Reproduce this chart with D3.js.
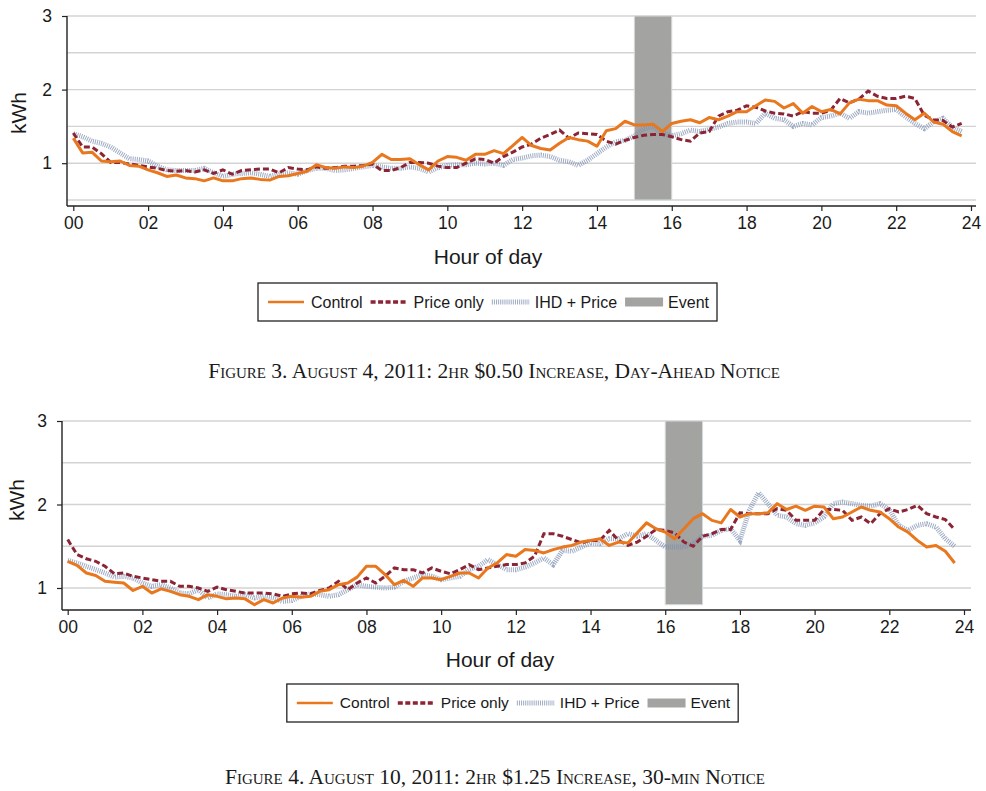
<!DOCTYPE html>
<html>
<head>
<meta charset="utf-8">
<script src="https://cdnjs.cloudflare.com/ajax/libs/d3/7.8.5/d3.min.js"></script>
<style>
  body { margin: 0; background: #fff; }
  text { font-family: "Liberation Sans", Arial, sans-serif; fill: #1a1a1a; }
  .caption { font-family: "Liberation Serif", "Times New Roman", serif; font-variant: small-caps; }
</style>
</head>
<body>
<div class="chart"></div>
<script>
// quarter-hour readings, 00:00 .. 23:45
var quarterHours = d3.range(0, 24, 0.25);
var hourTicks = [0, 2, 4, 6, 8, 10, 12, 14, 16, 18, 20, 22, 24];
var hourLabels = ["00", "02", "04", "06", "08", "10", "12", "14", "16", "18", "20", "22", "24"];
var kwhTicks = [1, 2, 3];
var seriesNames = ["Control", "Price only", "IHD + Price", "Event"];

// Figure 3 - August 4, 2011
var fig3Event = [15, 16];
var fig3Control = [1.34,1.14,1.15,1.03,1.02,1.03,0.97,0.96,0.91,0.87,0.82,0.84,
  0.80,0.79,0.76,0.80,0.76,0.76,0.79,0.80,0.78,0.77,0.82,0.83,
  0.86,0.89,0.98,0.94,0.93,0.95,0.94,0.96,1.01,1.12,1.05,1.05,
  1.06,0.98,0.91,1.03,1.09,1.08,1.04,1.12,1.12,1.17,1.13,1.24,
  1.35,1.24,1.20,1.18,1.27,1.35,1.32,1.30,1.23,1.44,1.47,1.57,
  1.52,1.52,1.53,1.43,1.54,1.57,1.59,1.55,1.62,1.59,1.64,1.70,
  1.70,1.78,1.86,1.84,1.75,1.81,1.68,1.77,1.70,1.73,1.67,1.82,
  1.87,1.85,1.85,1.79,1.78,1.68,1.59,1.68,1.56,1.53,1.43,1.37];
var fig3Price = [1.41,1.22,1.22,1.13,1.01,1.01,0.99,0.97,0.95,0.93,0.90,0.89,
  0.90,0.88,0.91,0.86,0.91,0.85,0.90,0.91,0.92,0.92,0.87,0.94,
  0.92,0.91,0.95,0.93,0.94,0.96,0.96,0.97,0.99,0.90,0.90,0.94,
  1.01,1.01,1.00,0.96,0.94,0.94,1.00,1.06,1.05,1.00,1.09,1.15,
  1.22,1.26,1.34,1.39,1.45,1.34,1.41,1.40,1.39,1.30,1.26,1.31,
  1.35,1.38,1.39,1.39,1.36,1.32,1.30,1.41,1.43,1.64,1.70,1.72,
  1.78,1.76,1.71,1.68,1.67,1.64,1.70,1.68,1.68,1.72,1.88,1.82,
  1.87,1.98,1.91,1.88,1.88,1.91,1.88,1.65,1.59,1.58,1.49,1.54];
var fig3IHD = [1.40,1.36,1.30,1.27,1.22,1.14,1.06,1.05,1.03,0.96,0.91,0.90,
  0.90,0.90,0.93,0.87,0.82,0.85,0.86,0.87,0.85,0.82,0.85,0.87,
  0.85,0.90,0.93,0.93,0.90,0.91,0.93,0.95,0.97,0.95,0.93,0.93,
  0.95,0.93,0.88,0.94,0.97,0.98,0.98,1.00,0.99,1.00,0.97,1.05,
  1.07,1.10,1.11,1.09,1.04,1.02,0.97,1.04,1.13,1.22,1.29,1.31,
  1.37,1.47,1.50,1.41,1.37,1.40,1.45,1.43,1.46,1.49,1.54,1.56,
  1.56,1.54,1.68,1.61,1.59,1.50,1.54,1.52,1.62,1.64,1.68,1.61,
  1.70,1.68,1.70,1.72,1.73,1.63,1.54,1.47,1.56,1.61,1.49,1.43];

// Figure 4 - August 10, 2011
var fig4Event = [16, 17];
var fig4Control = [1.32,1.27,1.18,1.15,1.08,1.07,1.06,0.97,1.02,0.94,0.99,0.96,
  0.92,0.90,0.86,0.92,0.90,0.87,0.88,0.87,0.80,0.86,0.82,0.88,
  0.90,0.89,0.90,0.96,0.98,1.04,1.06,1.13,1.26,1.26,1.16,1.04,
  1.09,1.02,1.12,1.12,1.10,1.14,1.18,1.18,1.12,1.24,1.30,1.40,
  1.38,1.46,1.45,1.42,1.46,1.49,1.51,1.55,1.57,1.59,1.51,1.55,
  1.54,1.66,1.78,1.71,1.67,1.59,1.71,1.83,1.89,1.81,1.78,1.94,
  1.85,1.89,1.89,1.90,2.01,1.94,1.98,1.93,1.98,1.97,1.83,1.85,
  1.91,1.97,1.93,1.91,1.83,1.73,1.67,1.57,1.49,1.51,1.44,1.30];
var fig4Price = [1.58,1.40,1.35,1.32,1.26,1.17,1.18,1.14,1.12,1.10,1.08,1.08,
  1.02,1.02,1.00,0.96,1.01,0.98,0.96,0.94,0.94,0.94,0.93,0.90,
  0.93,0.94,0.93,0.97,1.00,1.08,0.98,1.06,1.12,1.06,1.14,1.24,
  1.22,1.22,1.18,1.24,1.20,1.17,1.22,1.28,1.22,1.24,1.26,1.28,
  1.28,1.30,1.38,1.65,1.65,1.62,1.58,1.54,1.57,1.57,1.69,1.57,
  1.51,1.55,1.62,1.70,1.69,1.66,1.55,1.50,1.62,1.65,1.70,1.70,
  1.90,1.89,1.89,1.89,1.95,1.93,1.81,1.81,1.81,1.94,1.94,1.93,
  1.81,1.85,1.77,1.89,1.95,1.91,1.94,1.99,1.89,1.85,1.82,1.70];
var fig4IHD = [1.33,1.30,1.26,1.22,1.18,1.13,1.14,1.12,1.06,1.02,1.04,1.00,
  0.94,0.93,0.98,0.88,0.93,0.92,0.90,0.92,0.88,0.90,0.88,0.84,
  0.85,0.90,0.93,0.92,0.90,0.92,0.98,1.04,1.02,1.01,1.00,1.01,
  1.08,1.12,1.16,1.14,1.10,1.12,1.14,1.22,1.26,1.34,1.28,1.22,
  1.22,1.25,1.30,1.36,1.28,1.45,1.44,1.49,1.54,1.53,1.59,1.59,
  1.65,1.62,1.65,1.57,1.49,1.49,1.49,1.53,1.62,1.63,1.69,1.71,
  1.57,1.93,2.14,2.01,1.87,1.85,1.77,1.75,1.78,1.85,2.01,2.03,
  2.01,1.99,1.98,2.01,1.94,1.75,1.69,1.75,1.77,1.73,1.59,1.50];

var colControl = "#e8771e", colPrice = "#8b2535", colIHD = "#7d8fb0", colEvent = "#a3a3a1";

var svg = d3.select(".chart")
	.append("svg")
	.attr("width", 986)
	.attr("height", 791)

function drawPanel(p) {
	var x = d3.scaleLinear().domain([0, 24]).range([p.left, p.right]);
	var y = d3.scaleLinear().domain([p.yMin, 3]).range([p.bottom, p.top]);
	var g = svg.append("g");

	// horizontal grid
	g.selectAll(".grid")
		.data(p.grid)
		.enter()
		.append("line")
		.attr("x1", p.axisX)
		.attr("x2", p.gridRight)
		.attr("y1", function(d) { return y(d); })
		.attr("y2", function(d) { return y(d); })
		.style("stroke", "#d3d3d3")
		.style("stroke-width", 1.4)

	// event window
	g.append("rect")
		.attr("x", x(p.event[0]))
		.attr("y", y(3))
		.attr("width", x(p.event[1]) - x(p.event[0]))
		.attr("height", y(p.yMin) - y(3))
		.style("fill", colEvent)
		.style("stroke", "#d5dcdc")
		.style("stroke-width", 1)

	var line = d3.line()
		.x(function(d, i) { return x(quarterHours[i]); })
		.y(function(d) { return y(d); });

	g.append("path").datum(p.ihd).attr("d", line)
		.style("fill", "none").style("stroke", colIHD)
		.style("stroke-width", 5).style("stroke-dasharray", "1 1.1")
		.style("opacity", 0.75)
	g.append("path").datum(p.price).attr("d", line)
		.style("fill", "none").style("stroke", colPrice)
		.style("stroke-width", 3).style("stroke-dasharray", "6 3")
	g.append("path").datum(p.control).attr("d", line)
		.style("fill", "none").style("stroke", colControl)
		.style("stroke-width", 3).style("stroke-linejoin", "round")

	// axes
	g.append("g")
		.attr("transform", "translate(" + p.axisX + ",0)")
		.call(d3.axisLeft(y).tickValues(kwhTicks).tickSize(5).tickPadding(10).tickFormat(d3.format("d")))
	g.append("g")
		.attr("transform", "translate(0," + p.axisY + ")")
		.call(d3.axisBottom(x).tickValues(hourTicks).tickSize(5).tickPadding(6)
			.tickFormat(function(d, i) { return hourLabels[i]; }))
	g.selectAll(".domain").remove()
	g.selectAll(".tick line").style("stroke", "#222").style("stroke-width", 1.2)
	g.selectAll(".tick text").style("font-size", "17.5px").style("font-family", "Liberation Sans, Arial, sans-serif").style("fill", "#1a1a1a")

	g.append("line")
		.attr("x1", p.axisX).attr("x2", p.axisX)
		.attr("y1", y(3)).attr("y2", p.axisY)
		.style("stroke", "#222").style("stroke-width", 1.4)
	g.append("line")
		.attr("x1", p.axisX).attr("x2", p.gridRight)
		.attr("y1", p.axisY).attr("y2", p.axisY)
		.style("stroke", "#222").style("stroke-width", 1.4)

	g.append("text")
		.attr("transform", "translate(" + p.ylabX + "," + p.ylabY + ") rotate(-90)")
		.attr("text-anchor", "middle")
		.attr("dy", "0.35em")
		.style("font-size", "21px")
		.text("kWh")
	g.append("text")
		.attr("x", p.xlabX).attr("y", p.xlabY)
		.attr("text-anchor", "middle")
		.attr("dy", "0.35em")
		.style("font-size", "21px")
		.text("Hour of day")

	// legend
	var leg = g.append("g");
	var box = leg.append("rect")
		.attr("y", p.legTop).attr("height", 38)
		.style("fill", "#fff").style("stroke", "#222").style("stroke-width", 1.3)
	var cx = 10, cy = p.legTop + 19;
	seriesNames.forEach(function(name, i) {
		if (i == 0) {
			leg.append("line").attr("x1", cx).attr("x2", cx + 36).attr("y1", cy).attr("y2", cy)
				.style("stroke", colControl).style("stroke-width", 2.5)
		} else if (i == 1) {
			leg.append("line").attr("x1", cx).attr("x2", cx + 36).attr("y1", cy).attr("y2", cy)
				.style("stroke", colPrice).style("stroke-width", 3.5).style("stroke-dasharray", "5 2.5")
		} else if (i == 2) {
			leg.append("line").attr("x1", cx).attr("x2", cx + 38).attr("y1", cy).attr("y2", cy)
				.style("stroke", colIHD).style("stroke-width", 5).style("stroke-dasharray", "1 1.1").style("opacity", 0.75)
		} else {
			leg.append("rect").attr("x", cx).attr("y", cy - 4.5).attr("width", 38).attr("height", 9)
				.style("fill", colEvent)
		}
		var t = leg.append("text")
			.attr("x", cx + 43).attr("y", cy)
			.attr("dy", "0.35em")
			.style("font-size", p.legFont)
			.text(name)
		cx = cx + 43 + t.node().getComputedTextLength() + 8;
	})
	var w = cx;
	box.attr("x", 0).attr("width", w);
	leg.attr("transform", "translate(" + (p.legCenter - w / 2) + ",0)")

	g.append("text")
		.attr("class", "caption")
		.attr("x", p.capX).attr("y", p.capY)
		.attr("text-anchor", "middle")
		.attr("dy", "0.35em")
		.style("font-size", "21.5px")
		.text(p.caption)
}

drawPanel({
	left: 73.3, right: 971, top: 16, bottom: 200, yMin: 0.5,
	axisX: 67, axisY: 206, gridRight: 976,
	grid: [0.5, 1, 1.5, 2, 2.5, 3],
	event: fig3Event, control: fig3Control, price: fig3Price, ihd: fig3IHD,
	ylabX: 19, ylabY: 113, xlabX: 488, xlabY: 257,
	legTop: 283, legCenter: 487.5, legFont: "16px",
	capX: 494, capY: 370,
	caption: "Figure 3. August 4, 2011: 2hr $0.50 Increase, Day-Ahead Notice"
})

drawPanel({
	left: 67.7, right: 964, top: 421, bottom: 604.7, yMin: 0.8,
	axisX: 62, axisY: 610, gridRight: 971,
	grid: [1, 1.5, 2, 2.5, 3],
	event: fig4Event, control: fig4Control, price: fig4Price, ihd: fig4IHD,
	ylabX: 17, ylabY: 500, xlabX: 500, xlabY: 660,
	legTop: 684, legCenter: 512.5, legFont: "15.5px",
	capX: 495, capY: 776,
	caption: "Figure 4. August 10, 2011: 2hr $1.25 Increase, 30-min Notice"
})
</script>
</body>
</html>
